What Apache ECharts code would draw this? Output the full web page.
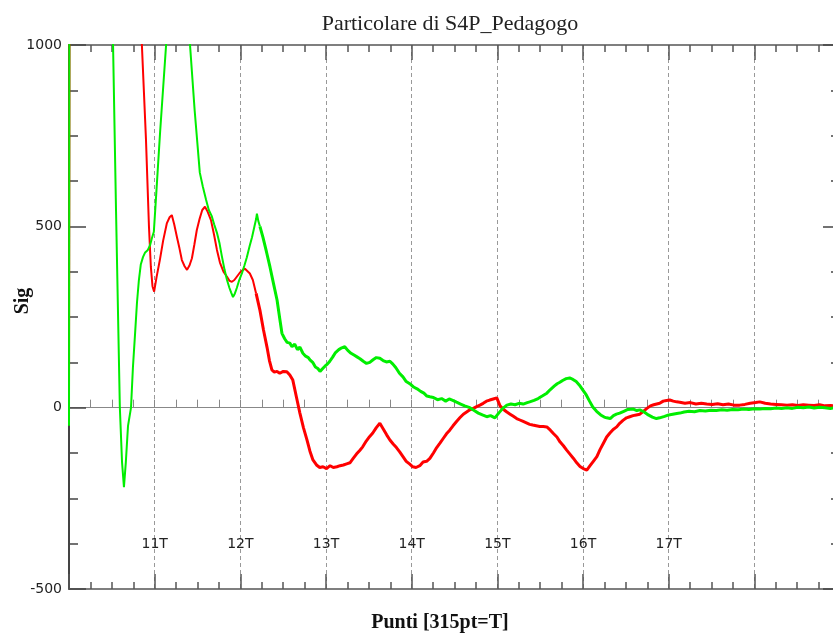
<!DOCTYPE html>
<html>
<head>
<meta charset="utf-8">
<script src="https://cdn.jsdelivr.net/npm/echarts@6/dist/echarts.min.js"></script>
<style>html,body{margin:0;padding:0;background:#fff}#c{width:833px;height:637px}</style>
</head>
<body>
<div id="c"></div>
<script>
// ---- data (x in points, 315 pt = T) ----
const titleText = 'Particolare di S4P_Pedagogo';
const xName = 'Punti [315pt=T]';
const yName = 'Sig';
const tickValues = [3465, 3780, 4095, 4410, 4725, 5040, 5355];
const tickLabels = ['11T', '12T', '13T', '14T', '15T', '16T', '17T'];

const redPts = [
[3150,20],[3153,1600],[3260,2800],[3380,2200],[3418,1000],[3433,740],[3444,500],[3451,388],[3457,335],[3463,320],
[3472,360],[3484,407],[3496,460],[3510,509],[3520,525],[3528,531],[3537,505],[3547,470],[3556,440],[3565,407],
[3575,390],[3584,380],[3593,392],[3602,412],[3611,450],[3620,490],[3630,520],[3640,545],[3650,554],[3660,540],
[3672,517],[3683,478],[3694,435],[3705,400],[3718,375],[3731,361],[3740,350],[3749,347],[3758,352],[3767,361],
[3778,372],[3789,380],[3797,383],[3804,385],[3815,370],[3826,352],[3838,315],[3852,269],[3865,215],[3878,167],
[3887,130],[3896,104],[3905,98],[3915,100],[3925,95],[3938,100],[3951,99],[3962,90],[3973,76],[3986,30],
[3999,-15],[4012,-55],[4025,-89],[4036,-120],[4047,-144],[4060,-158],[4072,-165],[4084,-163],[4097,-168],[4110,-160],
[4122,-165],[4135,-163],[4147,-160],[4159,-158],[4171,-155],[4183,-152],[4195,-140],[4207,-128],[4219,-118],[4230,-108],
[4243,-92],[4255,-80],[4267,-70],[4280,-55],[4293,-43],[4305,-58],[4318,-75],[4330,-89],[4342,-100],[4354,-110],
[4366,-122],[4378,-135],[4390,-148],[4402,-155],[4414,-163],[4426,-165],[4440,-160],[4452,-150],[4465,-148],[4477,-140],
[4490,-125],[4502,-110],[4514,-98],[4526,-85],[4538,-72],[4550,-62],[4562,-50],[4575,-38],[4587,-28],[4600,-18],
[4612,-12],[4624,-6],[4637,-2],[4649,3],[4661,7],[4673,12],[4685,18],[4697,21],[4710,24],[4723,27],
[4735,5],[4748,-5],[4760,-12],[4772,-18],[4784,-24],[4796,-30],[4808,-34],[4820,-38],[4832,-42],[4844,-46],
[4855,-48],[4868,-50],[4881,-52],[4894,-52],[4907,-53],[4920,-62],[4932,-72],[4944,-81],[4956,-95],[4968,-105],
[4980,-117],[4992,-128],[5005,-140],[5017,-152],[5029,-162],[5041,-168],[5054,-172],[5066,-160],[5078,-148],[5091,-135],
[5103,-115],[5115,-98],[5127,-81],[5139,-70],[5151,-60],[5164,-53],[5175,-43],[5187,-35],[5200,-28],[5212,-25],
[5224,-22],[5236,-20],[5249,-18],[5262,-10],[5275,-2],[5288,5],[5300,8],[5311,10],[5322,12],[5335,18],
[5347,20],[5359,21],[5372,18],[5384,16],[5396,15],[5415,12],[5435,14],[5455,10],[5475,12],[5495,10],
[5515,9],[5535,11],[5555,8],[5575,10],[5595,7],[5616,7],[5635,9],[5655,12],[5675,14],[5690,16],
[5710,12],[5730,10],[5750,9],[5770,8],[5790,7],[5810,8],[5830,6],[5850,8],[5870,7],[5890,6],
[5910,8],[5930,5],[5950,6],[5970,4],[5985,5]
];

const greenPts = [
[3150,-50],[3152,1600],[3230,2600],[3290,2000],[3312,1000],[3323,540],[3337,0],[3345,-150],[3352,-219],[3359,-150],
[3367,-50],[3378,0],[3385,110],[3393,205],[3400,290],[3407,352],[3414,395],[3422,415],[3430,428],[3440,435],
[3448,448],[3455,468],[3462,485],[3470,580],[3485,760],[3507,1000],[3551,1500],[3595,1000],[3612,820],[3631,648],
[3642,610],[3654,573],[3664,545],[3675,528],[3684,505],[3694,482],[3703,455],[3712,418],[3722,380],[3731,352],
[3740,330],[3746,318],[3753,305],[3760,315],[3767,330],[3776,352],[3786,371],[3795,392],[3804,415],[3814,445],
[3823,470],[3832,500],[3838,520],[3841,535],[3846,515],[3852,500],[3863,470],[3876,430],[3889,388],[3902,342],
[3915,297],[3925,245],[3933,205],[3943,190],[3952,180],[3962,178],[3970,168],[3980,175],[3990,160],[3999,167],
[4010,150],[4020,142],[4030,138],[4036,132],[4046,125],[4056,112],[4065,108],[4073,100],[4083,108],[4092,115],
[4100,120],[4109,128],[4120,140],[4130,152],[4142,160],[4153,165],[4164,168],[4175,158],[4187,150],[4198,145],
[4209,140],[4220,135],[4232,128],[4244,122],[4256,125],[4268,132],[4280,138],[4293,136],[4305,130],[4317,126],
[4330,128],[4341,120],[4352,110],[4365,95],[4378,85],[4390,72],[4403,66],[4417,57],[4430,52],[4443,45],
[4455,40],[4466,32],[4477,30],[4490,28],[4505,22],[4520,25],[4535,18],[4548,24],[4561,20],[4575,15],
[4590,10],[4605,5],[4624,0],[4640,-8],[4655,-15],[4670,-20],[4686,-25],[4700,-22],[4716,-28],[4730,-15],
[4745,-2],[4760,7],[4775,10],[4790,8],[4805,12],[4820,10],[4835,14],[4844,16],[4860,20],[4875,25],
[4890,32],[4907,40],[4920,50],[4935,60],[4945,66],[4955,70],[4965,75],[4978,80],[4991,82],[5003,78],
[5015,72],[5027,62],[5039,49],[5052,35],[5064,18],[5076,2],[5090,-10],[5105,-20],[5118,-26],[5127,-28],
[5140,-30],[5152,-22],[5163,-18],[5175,-15],[5190,-10],[5205,-5],[5212,0],[5225,-4],[5238,-8],[5249,-6],
[5265,-12],[5280,-20],[5295,-26],[5310,-30],[5322,-28],[5340,-24],[5355,-20],[5370,-18],[5385,-16],[5396,-15],
[5412,-12],[5430,-10],[5450,-11],[5470,-8],[5490,-9],[5510,-7],[5530,-8],[5550,-6],[5570,-7],[5590,-5],
[5610,-6],[5630,-4],[5650,-5],[5670,-3],[5690,-4],[5710,-2],[5730,-3],[5750,-1],[5770,-2],[5790,0],
[5810,-2],[5830,1],[5850,0],[5870,2],[5890,-1],[5910,1],[5930,0],[5950,-2],[5970,0],[5985,-1]
];

// split each trace into its steep (thin) part and its noisy (thicker) part
const redSplit = redPts.findIndex(p => p[0] >= 3838);
const greenSplit = greenPts.findIndex(p => p[0] >= 3852);

const chart = echarts.init(document.getElementById('c'), null, {renderer: 'canvas'});
const axisColor = '#555';
const xCommon = {
  type: 'value', min: 3150, max: 5985, interval: 315,
  axisLabel: {show: false}, splitLine: {show: false}
};
function lineSeries(data, color, width, z) {
  return {type: 'line', data: data, xAxisIndex: 0, yAxisIndex: 0, showSymbol: false,
          lineStyle: {color: color, width: width}, itemStyle: {color: color}, clip: true, z: z};
}
chart.setOption({
  animation: false,
  backgroundColor: '#fff',
  title: {
    text: titleText, left: 445, top: 8, textAlign: 'center',
    textStyle: {fontFamily: 'Liberation Serif', fontSize: 22, fontWeight: 'normal', color: '#222'}
  },
  grid: {left: 69, right: -7, top: 45, bottom: 48, containLabel: false, outerBoundsMode: 'none'},
  xAxis: [
    Object.assign({}, xCommon, {
      position: 'bottom',
      name: xName, nameLocation: 'middle', nameGap: 24, nameMoveOverlap: false,
      nameTextStyle: {fontFamily: 'Liberation Serif', fontSize: 20, fontWeight: 'bold', color: '#111', padding: [0, 29, 0, 0]},
      axisLine: {onZero: false, lineStyle: {color: axisColor, width: 1.5}},
      axisTick: {inside: true, length: 15, lineStyle: {color: axisColor, width: 1.5}},
      minorTick: {show: true, splitNumber: 4, length: 7, lineStyle: {color: axisColor, width: 1.5}},
      axisLabel: {
        show: true, inside: true, margin: 38,
        fontFamily: 'DejaVu Sans', fontSize: 14, color: '#222',
        formatter: function (v) {
          const i = tickValues.indexOf(Math.round(v));
          return i >= 0 ? tickLabels[i] : '';
        }
      },
      splitLine: {show: true, lineStyle: {color: '#999', type: [4, 3], width: 1}}
    }),
    Object.assign({}, xCommon, {
      position: 'top',
      axisLine: {onZero: false, lineStyle: {color: axisColor, width: 1.5}},
      axisTick: {inside: true, length: 15, lineStyle: {color: axisColor, width: 1.5}},
      minorTick: {show: true, splitNumber: 4, length: 7, lineStyle: {color: axisColor, width: 1.5}}
    }),
    Object.assign({}, xCommon, {
      position: 'bottom',
      axisLine: {onZero: true, lineStyle: {color: '#888', width: 1}},
      axisTick: {inside: true, length: 8, lineStyle: {color: '#888', width: 1}},
      minorTick: {show: true, splitNumber: 4, length: 8, lineStyle: {color: '#888', width: 1}}
    })
  ],
  yAxis: [
    {
      type: 'value', min: -500, max: 1000, interval: 500, position: 'left',
      name: yName, nameLocation: 'middle', nameGap: 36, nameRotate: 90, nameMoveOverlap: false,
      nameTextStyle: {fontFamily: 'Liberation Serif', fontSize: 20, fontWeight: 'bold', color: '#111', padding: [0, 0, 0, 32]},
      axisLine: {onZero: false, lineStyle: {color: '#444', width: 2}},
      axisTick: {inside: true, length: 17, lineStyle: {color: '#444', width: 1.5}},
      minorTick: {show: true, splitNumber: 4, length: 9, lineStyle: {color: '#444', width: 1.5}},
      axisLabel: {margin: 7, fontFamily: 'DejaVu Sans', fontSize: 14, color: '#222',
                  formatter: function (v) { return String(v); }},
      splitLine: {show: false}
    },
    {
      type: 'value', min: -500, max: 1000, interval: 500, position: 'right',
      axisLine: {onZero: false, lineStyle: {color: '#444', width: 2}},
      axisTick: {inside: true, length: 17, lineStyle: {color: '#444', width: 1.5}},
      minorTick: {show: true, splitNumber: 4, length: 9, lineStyle: {color: '#444', width: 1.5}},
      axisLabel: {show: false},
      splitLine: {show: false}
    }
  ],
  series: [
    lineSeries(redPts.slice(0, redSplit + 1), '#ff0000', 2, 3),
    lineSeries(redPts.slice(redSplit), '#ff0000', 3, 3),
    lineSeries(greenPts.slice(0, greenSplit + 1), '#00ee00', 2, 4),
    lineSeries(greenPts.slice(greenSplit), '#00ee00', 3, 4)
  ]
});
</script>
</body>
</html>
